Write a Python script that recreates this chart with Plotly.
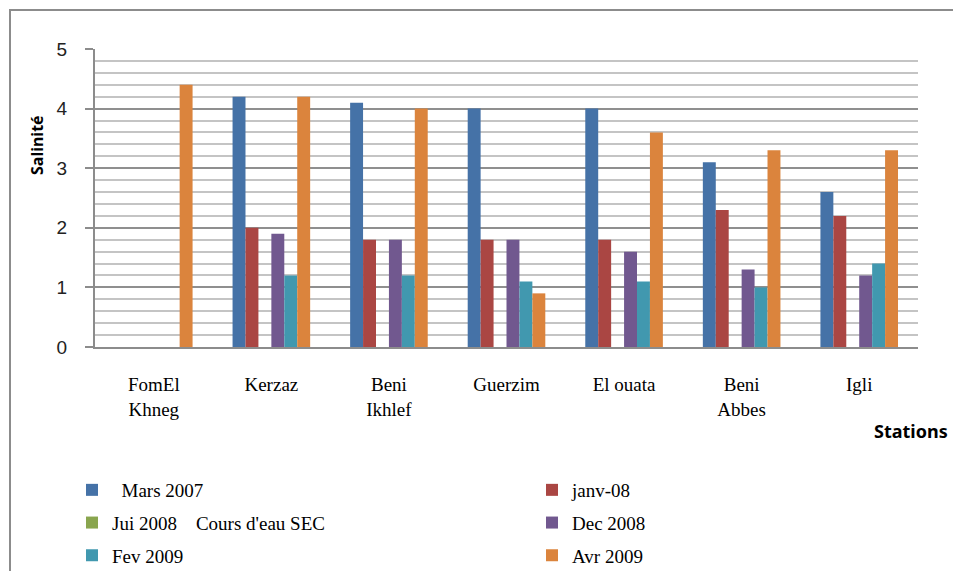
import plotly.graph_objects as go

stations = ["FomEl<br>Khneg", "Kerzaz", "Beni<br>Ikhlef", "Guerzim", "El ouata", "Beni<br>Abbes", "Igli"]
series_names = ["  Mars 2007", "janv-08", "Jui 2008    Cours d'eau SEC", "Dec 2008", "Fev 2009", "Avr 2009"]
mars_2007 = [0, 4.2, 4.1, 4.0, 4.0, 3.1, 2.6]
janv_08 = [0, 2.0, 1.8, 1.8, 1.8, 2.3, 2.2]
jui_2008 = [0, 0, 0, 0, 0, 0, 0]
dec_2008 = [0, 1.9, 1.8, 1.8, 1.6, 1.3, 1.2]
fev_2009 = [0, 1.2, 1.2, 1.1, 1.1, 1.0, 1.4]
avr_2009 = [4.4, 4.2, 4.0, 0.9, 3.6, 3.3, 3.3]
y_ticks = [0, 1, 2, 3, 4, 5]

values = [mars_2007, janv_08, jui_2008, dec_2008, fev_2009, avr_2009]
colors = ["#4572A7", "#AA4643", "#89A54E", "#71588F", "#4198AF", "#DB843D"]
legend_of = ["legend", "legend2", "legend", "legend2", "legend", "legend2"]

fig = go.Figure()
for i, (name, vals) in enumerate(zip(series_names, values)):
    fig.add_trace(go.Bar(
        x=stations, y=vals, name=name,
        marker=dict(color=colors[i], line=dict(width=0)),
        legend=legend_of[i], legendgroup=str(i),
    ))

# the page body adds an 8px margin, so the figure is 8px smaller than the window
OFF = 8
W, H = 961 - OFF, 571 - OFF
# plot area in window pixels: x 95..918, y 49..347
L = 95 - OFF
T = 49 - OFF
R = W - (918 - OFF)
B = H - (347 - OFF)
pw = W - L - R
ph = H - T - B

def px_x(p):
    return (p - OFF - L) / pw

def px_y(p):
    return (H - B - (p - OFF)) / ph

legend_font = dict(family="Liberation Serif", size=19, color="#000000")

fig.update_layout(
    width=W, height=H,
    margin=dict(l=L, r=R, t=T, b=B, autoexpand=False),
    paper_bgcolor="white", plot_bgcolor="white",
    barmode="group", bargap=0.34, bargroupgap=0.0,
    font=dict(family="DejaVu Sans", color="#000"),
    xaxis=dict(
        showgrid=False, showline=True, linecolor="#8C8C8C", linewidth=2,
        ticks="", tickfont=dict(family="Liberation Serif", size=19, color="#000"),
        ticklabelstandoff=19, automargin=False,
    ),
    yaxis=dict(
        range=[0, 5], tickvals=y_ticks, showline=True, linecolor="#8C8C8C", linewidth=2,
        ticks="outside", ticklen=8, tickcolor="#8C8C8C", tickwidth=2,
        tickfont=dict(family="Liberation Sans", size=19, color="#222"),
        ticklabelstandoff=14,
        showgrid=True, gridcolor="#8F8F8F", gridwidth=2,
        minor=dict(dtick=0.2, showgrid=True, gridcolor="#C4C4C4", gridwidth=2, ticks=""),
        zeroline=False, automargin=False,
    ),
    legend=dict(
        x=px_x(72), y=px_y(471), xanchor="left", yanchor="top",
        orientation="v", font=legend_font, tracegroupgap=5,
        bgcolor="rgba(0,0,0,0)", itemclick=False,
    ),
    legend2=dict(
        x=px_x(532), y=px_y(471), xanchor="left", yanchor="top",
        orientation="v", font=legend_font, tracegroupgap=5,
        bgcolor="rgba(0,0,0,0)", itemclick=False,
    ),
    annotations=[
        dict(text="<b>Salinité</b>", x=px_x(37), y=px_y(145), xref="paper", yref="paper",
             xanchor="center", yanchor="middle",
             textangle=-90, showarrow=False, font=dict(family="Noto Sans", size=16, color="#000")),
        dict(text="<b>Stations</b>", x=px_x(950), y=px_y(431), xref="paper", yref="paper",
             xanchor="right", yanchor="middle", showarrow=False,
             font=dict(family="Noto Sans", size=18, color="#000")),
    ],
    shapes=[
        dict(type="rect", xref="paper", yref="paper",
             x0=px_x(10), x1=px_x(990), y0=px_y(620), y1=px_y(10),
             line=dict(color="#8C8C8C", width=2), layer="below"),
    ],
)

fig.write_html("out.html")
